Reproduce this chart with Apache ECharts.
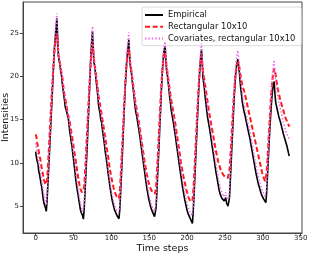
<!DOCTYPE html>
<html>
<head>
<meta charset="utf-8">
<script src="https://cdn.jsdelivr.net/npm/echarts@6/dist/echarts.min.js"></script>
<style>
html,body{margin:0;padding:0;background:#fff;}
#chart{width:310px;height:256px;}
</style>
</head>
<body>
<div id="chart"></div>
<script>
var seriesNames = ["Empirical", "Rectangular 10x10", "Covariates, rectangular 10x10"];
var xTicks = [0, 50, 100, 150, 200, 250, 300, 350];
var yTicks = [5, 10, 15, 20, 25];

var empirical = [
11.3,10.6,10.2,9.9,9.1,8.7,8.2,7.6,7.2,6.5,5.8,5.3,5.1,4.8,4.4,
5.6,7.3,9.0,10.8,12.6,14.5,16.3,18.2,20.0,22.1,23.6,24.6,25.6,26.7,
24.5,22.4,21.8,21.4,20.6,20.2,19.3,18.6,17.9,17.3,16.5,16.2,15.9,15.5,15.2,14.5,13.6,13.1,12.4,11.9,11.1,10.4,9.6,8.9,8.0,7.4,6.8,6.3,5.7,5.2,4.6,4.3,4.1,3.9,3.5,
4.6,6.3,8.2,10.0,11.8,14.0,16.1,18.3,20.6,22.6,24.0,25.2,
23.3,21.6,21.2,20.3,19.4,18.6,17.8,16.7,16.2,15.7,15.0,14.7,14.0,13.3,12.7,12.0,11.2,10.7,10.0,9.3,8.6,8.0,7.3,6.8,6.2,5.7,5.3,5.0,4.6,4.4,4.2,4.0,3.8,3.7,3.55,
4.5,6.2,8.1,10.0,12.0,14.1,16.3,18.3,20.0,21.4,22.5,23.4,24.2,
22.5,21.2,20.7,20.0,19.1,18.4,17.6,16.7,16.0,15.6,15.1,14.5,14.0,13.4,12.8,12.1,11.5,10.8,10.2,9.5,8.9,8.2,7.6,7.0,6.5,6.0,5.6,5.2,4.9,4.6,4.4,4.2,4.0,3.8,3.75,
4.8,6.5,8.4,10.3,12.2,14.3,16.2,18.3,20.0,21.5,22.6,23.2,23.5,
21.8,20.6,20.1,19.3,18.5,17.6,16.9,16.1,15.6,15.1,14.6,14.0,13.4,12.8,12.1,11.5,10.9,10.2,9.6,9.0,8.4,7.8,7.2,6.7,6.2,5.7,5.3,4.9,4.5,4.2,4.0,3.8,3.6,3.4,3.2,3.0,
4.3,6.0,7.9,9.8,11.8,13.8,15.8,17.8,19.6,21.1,22.3,23.1,
21.5,19.8,19.2,18.4,17.5,16.8,16.0,15.3,14.8,14.3,13.8,13.2,12.6,12.0,11.4,10.8,10.2,9.6,9.0,8.5,8.0,7.5,7.0,6.6,6.3,6.1,5.9,5.8,5.7,5.6,5.8,6.0,5.4,5.5,5.0,4.9,
6.0,7.8,9.7,11.6,13.5,15.4,17.2,18.8,20.1,21.0,21.6,22.0,22.2,
20.5,19.4,18.5,17.8,17.0,16.5,16.0,15.8,15.3,14.8,14.5,14.0,13.6,13.2,12.8,12.3,11.8,11.3,10.8,10.3,9.8,9.3,8.8,8.4,8.0,7.6,7.3,7.0,6.7,6.4,6.2,6.0,5.8,5.7,5.5,5.4,
6.5,8.2,10.0,11.8,13.5,15.0,16.4,17.6,18.5,19.1,19.4,
18.0,17.0,16.6,16.2,15.8,15.4,15.1,14.8,14.5,14.1,13.8,13.4,13.1,12.8,12.5,12.3,11.9,11.5,11.1,10.8
];

var rectangular = [
13.3,13.0,12.3,11.9,11.4,10.8,10.5,9.9,9.4,8.9,8.5,8.0,7.8,7.5,7.3,
8.0,9.3,10.9,12.6,14.3,16.0,17.6,19.1,20.6,21.9,23.0,23.9,24.5,24.8,
24.0,22.6,22.0,21.6,21.0,20.5,20.0,19.3,18.5,17.9,17.4,17.0,16.5,15.9,15.5,15.1,14.7,14.2,13.6,13.1,12.6,11.9,11.3,10.8,10.2,9.6,9.0,8.4,7.9,7.4,7.0,6.8,6.6,6.4,6.4,
7.2,8.6,10.2,12.0,13.8,15.6,17.3,19.0,20.6,22.0,23.1,23.8,
23.0,21.9,21.3,20.7,20.0,19.3,18.5,17.8,17.2,16.7,16.2,15.7,15.1,14.6,14.0,13.4,12.9,12.3,11.7,11.1,10.5,9.9,9.3,8.8,8.3,7.9,7.5,7.1,6.8,6.5,6.3,6.1,6.0,5.9,5.9,
6.6,8.0,9.7,11.5,13.3,15.1,16.9,18.6,20.1,21.3,22.2,22.8,23.1,
22.4,21.4,20.9,20.3,19.6,18.9,18.2,17.5,16.9,16.4,15.9,15.4,14.9,14.3,13.7,13.1,12.5,11.9,11.3,10.7,10.1,9.6,9.1,8.6,8.2,7.8,7.5,7.2,7.0,6.8,6.6,6.5,6.5,6.4,6.5,
7.3,8.7,10.3,12.1,13.9,15.7,17.4,19.0,20.4,21.5,22.3,22.8,22.9,
22.0,21.0,20.5,19.9,19.2,18.5,17.9,17.3,16.8,16.3,15.8,15.3,14.8,14.2,13.6,13.0,12.4,11.8,11.2,10.6,10.0,9.5,9.0,8.5,8.1,7.7,7.3,6.9,6.6,6.3,6.0,5.8,5.6,5.5,5.5,5.6,
6.5,8.0,9.7,11.5,13.3,15.1,16.9,18.5,19.9,21.1,21.9,22.5,
21.6,20.6,20.1,19.5,18.9,18.3,17.7,17.1,16.5,15.9,15.4,14.9,14.4,13.9,13.4,12.9,12.4,11.9,11.4,11.0,10.6,10.2,9.9,9.6,9.3,9.1,8.9,8.7,8.6,8.5,8.4,8.3,8.3,8.2,8.3,8.4,
9.2,10.5,12.0,13.6,15.2,16.7,18.1,19.3,20.3,21.0,21.4,21.6,21.7,
21.0,20.4,19.9,19.4,19.0,18.7,18.4,18.1,17.7,17.3,16.9,16.5,16.1,15.7,15.3,14.9,14.5,14.1,13.7,13.3,12.9,12.5,12.1,11.7,11.3,10.9,10.5,10.1,9.7,9.3,8.9,8.6,8.3,8.1,7.9,8.0,
8.8,10.2,11.8,13.4,15.0,16.5,17.8,19.0,19.9,20.5,20.9,21.0,
20.2,19.5,19.0,18.5,18.1,17.7,17.3,17.0,16.7,16.4,16.1,15.8,15.5,15.2,15.0,14.8,14.6,14.4,14.2
];

var covariates = [
12.3,11.7,11.2,10.7,10.2,9.6,9.1,8.6,8.0,7.4,6.8,6.3,5.8,5.4,5.1,
6.1,7.7,9.4,11.2,13.0,14.9,16.8,18.7,20.6,22.5,24.1,25.4,26.5,27.3,
25.0,22.9,22.2,21.8,21.1,20.6,19.9,19.2,18.5,17.9,17.2,16.8,16.4,16.0,15.6,15.0,14.3,13.7,13.1,12.5,11.8,11.1,10.4,9.7,8.9,8.2,7.6,7.0,6.4,5.9,5.4,5.0,4.7,4.4,4.2,
5.2,6.9,8.8,10.7,12.6,14.7,16.8,18.9,21.0,23.0,24.6,25.8,
23.8,22.1,21.6,20.8,19.9,19.1,18.3,17.4,16.8,16.3,15.7,15.2,14.6,13.9,13.3,12.6,11.9,11.3,10.6,9.9,9.2,8.6,8.0,7.4,6.8,6.3,5.9,5.5,5.2,4.9,4.7,4.5,4.4,4.3,4.3,
5.1,6.8,8.7,10.6,12.6,14.7,16.8,18.9,20.8,22.3,23.5,24.4,25.1,
23.0,21.7,21.1,20.5,19.7,19.0,18.2,17.4,16.7,16.2,15.7,15.1,14.6,14.0,13.4,12.8,12.2,11.5,10.9,10.2,9.6,9.0,8.3,7.7,7.2,6.7,6.2,5.8,5.4,5.1,4.9,4.7,4.5,4.4,4.3,
5.3,7.0,8.9,10.8,12.7,14.7,16.7,18.7,20.4,21.9,23.0,23.7,24.0,
22.3,21.1,20.6,19.9,19.1,18.3,17.6,16.9,16.3,15.8,15.3,14.7,14.1,13.5,12.9,12.3,11.6,11.0,10.4,9.8,9.2,8.6,8.0,7.5,7.0,6.5,6.1,5.7,5.3,5.0,4.7,4.5,4.3,4.1,3.9,3.8,
4.9,6.6,8.5,10.4,12.4,14.4,16.5,18.5,20.3,21.9,23.1,23.8,
22.2,20.6,20.0,19.3,18.5,17.8,17.0,16.3,15.7,15.2,14.7,14.1,13.5,12.9,12.3,11.7,11.1,10.5,9.9,9.4,8.9,8.4,7.9,7.5,7.1,6.8,6.5,6.3,6.1,6.0,6.3,6.6,6.0,6.2,5.8,5.8,
6.9,8.7,10.6,12.5,14.4,16.3,18.1,19.7,21.0,22.0,22.6,23.0,23.1,
21.4,20.2,19.3,18.6,17.9,17.3,16.8,16.5,16.0,15.6,15.2,14.8,14.4,14.0,13.6,13.2,12.7,12.2,11.7,11.2,10.7,10.2,9.7,9.3,8.9,8.5,8.1,7.8,7.5,7.2,6.9,6.7,6.5,6.3,6.1,6.0,
7.0,8.8,10.7,12.6,14.5,16.3,17.9,19.3,20.5,21.4,21.9,
20.6,19.4,18.7,18.1,17.6,17.1,16.7,16.3,15.9,15.5,15.1,14.7,14.4,14.1,13.8,13.5,13.3,13.1,12.9,12.7
];

function pairs(arr){ return arr.map(function(v,i){ return [i, v]; }); }

var font = 'DejaVu Sans';
var chart = echarts.init(document.getElementById('chart'), null, {renderer:'canvas'});
chart.setOption({
  animation: false,
  backgroundColor: '#fff',
  textStyle: {fontFamily: font},
  grid: {left: 23, right: 8, top: 2, bottom: 23, show: true, borderColor: '#444', borderWidth: 1,
         backgroundColor: 'transparent', outerBoundsMode: 'none', containLabel: false},
  legend: {
    orient: 'vertical', left: 142, top: 7,
    backgroundColor: 'rgba(255,255,255,0.85)', borderColor: '#d0d0d0', borderWidth: 0.8, borderRadius: 2,
    padding: [4, 6, 3, 2], itemWidth: 18, itemHeight: 8, itemGap: 3.8,
    itemStyle: {opacity: 0},
    textStyle: {fontSize: 8.4, color: '#111', fontFamily: font},
    data: seriesNames
  },
  xAxis: {
    type: 'value', min: -16.75, max: 351.75,
    splitLine: {show: false},
    axisLine: {show: true, onZero: false, lineStyle: {color: '#444', width: 1}},
    axisTick: {show: true, customValues: xTicks, length: 3, lineStyle: {color: '#444'}},
    axisLabel: {customValues: xTicks, fontSize: 7, color: '#222', margin: 2},
    name: 'Time steps', nameLocation: 'middle', nameGap: 11, nameMoveOverlap: false,
    nameTextStyle: {fontSize: 9.5, color: '#111'}
  },
  yAxis: {
    type: 'value', min: 1.9, max: 28.6,
    splitLine: {show: false},
    axisLine: {show: true, onZero: false, lineStyle: {color: '#444', width: 1}},
    axisTick: {show: true, customValues: yTicks, length: 3, lineStyle: {color: '#444'}},
    axisLabel: {customValues: yTicks, fontSize: 7, color: '#222', margin: 4},
    name: 'Intensities', nameLocation: 'middle', nameGap: 12, nameMoveOverlap: false,
    nameTextStyle: {fontSize: 9.5, color: '#111'}
  },
  series: [
    {name: seriesNames[0], type: 'line', data: pairs(empirical), symbol: 'none', showSymbol: false,
     lineStyle: {color: '#000', width: 1.6}, itemStyle: {color: '#000'}, z: 2},
    {name: seriesNames[1], type: 'line', data: pairs(rectangular), symbol: 'none', showSymbol: false,
     lineStyle: {color: '#ff1a1a', width: 2, type: [5, 2.6]}, itemStyle: {color: '#ff1a1a'}, z: 3},
    {name: seriesNames[2], type: 'line', data: pairs(covariates), symbol: 'none', showSymbol: false,
     lineStyle: {color: '#ee66ee', width: 1.5, type: [1.4, 2]}, itemStyle: {color: '#ee66ee'}, z: 4}
  ]
});
</script>
</body>
</html>
